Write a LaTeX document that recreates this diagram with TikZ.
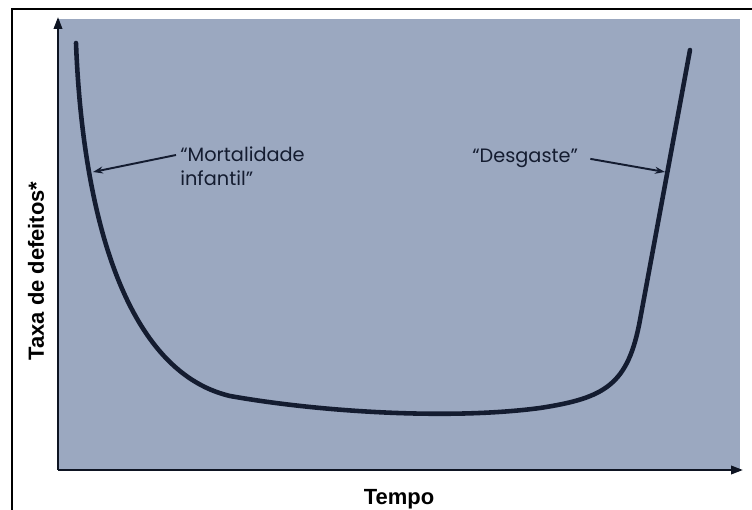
\documentclass[tikz,border=0pt]{standalone}
\usepackage{fontspec}
\setmainfont{Liberation Sans}
\newfontfamily\labelfont{Poppins}
\usetikzlibrary{arrows.meta, calc}
\definecolor{panel}{RGB}{155,168,192}
\definecolor{ink}{RGB}{20,28,48}
\tikzstyle{axis} = [line width=1.2pt, draw=ink!70!black, -{Triangle[length=2.4mm, width=1.7mm]}]
\tikzstyle{curve} = [line width=2.6pt, draw=ink, line cap=round]
\tikzstyle{pointer} = [line width=1.1pt, draw=ink, -{Stealth[length=2mm, width=1.4mm]}]
\tikzstyle{quote} = [font=\labelfont\fontsize{11}{14}\selectfont, text=ink, inner sep=0pt, align=left]
\tikzstyle{axislabel} = [font=\bfseries\fontsize{12.5}{14}\selectfont, inner sep=0pt]

\begin{document}
\begin{tikzpicture}[x=0.02cm, y=-0.02cm]
  \useasboundingbox (0,0) rectangle (752,510);
  % frame and panel
  \draw[line width=1.1pt] (12,510) -- (12,9) -- (752,9);
  \fill[panel] (58,19) rectangle (740,471);
  \coordinate (origin) at (58,470);
  \coordinate (ytop) at (58,17);
  \coordinate (xend) at (743,470);
  \draw[axis] (origin) -- (ytop);
  \draw[axis] (origin) -- (xend);
  % bathtub curve
  \draw[curve] (76,43) .. controls (82,200) and (120,370) .. (230,396)
    .. controls (320,412) and (450,420) .. (540,408)
    .. controls (605,398) and (628,385) .. (640,320) -- (690,50);
  \coordinate (early) at (93,172);
  \coordinate (wear) at (665,172);
  % labels
  \node[quote, anchor=north west] (mort) at (180,146) {“Mortalidade\\infantil”};
  \node[quote, anchor=base west] (desg) at (472,163) {“Desgaste”};
  \draw[pointer] ($(mort.north west)+(-4,9)$) -- (early);
  \draw[pointer] ($(desg.east)+(12,0)$) -- (wear);
  \node[axislabel, rotate=90] (ylab) at (36,271) {Taxa de defeitos*};
  \node[axislabel, anchor=base] (xlab) at (399,505) {Tempo};
\end{tikzpicture}
\end{document}
